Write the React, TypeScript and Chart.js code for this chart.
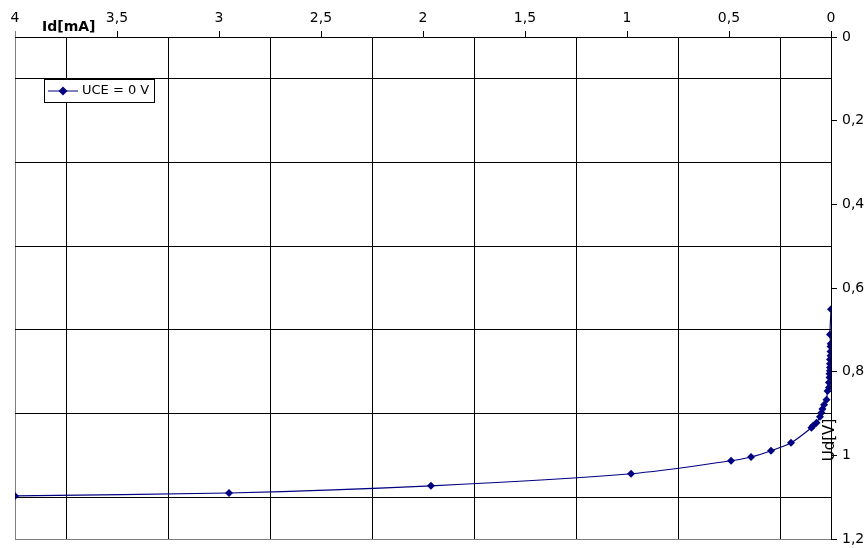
import React, { useEffect, useRef } from "react";
import { Chart, registerables } from "chart.js";

Chart.register(...registerables);

// Diode forward characteristic, UCE = 0 V
const seriesLabel = "UCE = 0 V";
const currentMA = [
  0, 0.005, 0.0015, 0.002, 0.002, 0.002, 0.005, 0.005, 0.005, 0.005, 0.007,
  0.007, 0.01, 0.01, 0.017, 0.022, 0.034, 0.042, 0.047, 0.054, 0.071, 0.088,
  0.096, 0.196, 0.294, 0.392, 0.49, 0.98, 1.961, 2.951, 4.0,
];
const voltageV = [
  0.651, 0.711, 0.733, 0.74, 0.752, 0.762, 0.771, 0.781, 0.79, 0.798, 0.805,
  0.814, 0.826, 0.838, 0.846, 0.867, 0.879, 0.889, 0.898, 0.908, 0.922, 0.929,
  0.934, 0.97, 0.989, 1.004, 1.013, 1.044, 1.073, 1.09, 1.097,
];
const xTickValues = [0, 0.25, 0.5, 0.75, 1, 1.25, 1.5, 1.75, 2, 2.25, 2.5, 2.75, 3, 3.25, 3.5, 3.75, 4];
const yTickValues = [0, 0.1, 0.2, 0.3, 0.4, 0.5, 0.6, 0.7, 0.8, 0.9, 1, 1.1, 1.2];
const xTitle = "Id[mA]";
const yTitle = "Ud[V]";

const NAVY = "#000080";
const FONT = '"DejaVu Sans"';

const isMult = (v: number, step: number) => Math.abs(v / step - Math.round(v / step)) < 1e-6;
const fmt = (v: number) => String(Math.round(v * 100) / 100).replace(".", ",");

const overlay = {
  id: "overlay",
  afterDraw(chart: any) {
    const c = chart.ctx as CanvasRenderingContext2D;
    c.save();
    c.fillStyle = "#000";
    c.font = `bold 14px ${FONT}`;
    c.textAlign = "left";
    c.textBaseline = "middle";
    c.fillText(xTitle, 42, 27);

    c.save();
    c.translate(830, 440);
    c.rotate(-Math.PI / 2);
    c.font = `15px ${FONT}`;
    c.textAlign = "center";
    c.textBaseline = "middle";
    c.fillText(yTitle, 0, 0);
    c.restore();

    // legend
    c.fillStyle = "#fff";
    c.fillRect(44.5, 79.5, 110, 23);
    c.strokeStyle = "#000";
    c.lineWidth = 1;
    c.strokeRect(44.5, 79.5, 110, 23);
    c.strokeStyle = NAVY;
    c.beginPath();
    c.moveTo(48, 91);
    c.lineTo(78, 91);
    c.stroke();
    c.fillStyle = NAVY;
    c.beginPath();
    c.moveTo(63, 86.5);
    c.lineTo(67.5, 91);
    c.lineTo(63, 95.5);
    c.lineTo(58.5, 91);
    c.closePath();
    c.fill();
    c.fillStyle = "#000";
    c.font = `13px ${FONT}`;
    c.textAlign = "left";
    c.fillText(seriesLabel, 82, 91);
    c.restore();
  },
};

export default function App() {
  const ref = useRef<HTMLCanvasElement | null>(null);
  useEffect(() => {
    if (!ref.current) return;
    const data = currentMA.map((x, i) => ({ x, y: voltageV[i] }));
    const chart = new Chart(ref.current, {
      type: "scatter",
      data: {
        datasets: [
          {
            label: seriesLabel,
            data,
            showLine: true,
            borderColor: NAVY,
            backgroundColor: NAVY,
            borderWidth: 1.2,
            pointStyle: "rectRot",
            pointRadius: 4,
            pointBorderWidth: 0,
            tension: 0.3,
          },
        ],
      },
      options: {
        responsive: false,
        animation: false,
        layout: { padding: { left: 15, right: 0, top: 0, bottom: 9 } },
        plugins: { legend: { display: false }, tooltip: { enabled: false } },
        scales: {
          x: {
            type: "linear",
            position: "top",
            reverse: true,
            min: 0,
            max: 4,
            afterBuildTicks: (s: any) => {
              s.ticks = xTickValues.map((v) => ({ value: v }));
            },
            afterFit: (s: any) => {
              s.height = 37;
              s.paddingLeft = 0;
              s.paddingRight = 0;
              s.paddingTop = 0;
              s.paddingBottom = 0;
            },
            border: { color: "#000", width: 1 },
            grid: {
              tickLength: 6,
              color: (ctx: any) => {
                const v = ctx.tick.value;
                if (v === 4) return "#808080";
                if (v === 0) return "rgba(0,0,0,0)";
                return isMult(v, 0.5) ? "rgba(0,0,0,0)" : "#000";
              },
              tickColor: (ctx: any) => {
                const v = ctx.tick.value;
                if (v === 4) return "#808080";
                return isMult(v, 0.5) ? "#000" : "rgba(0,0,0,0)";
              },
            },
            ticks: {
              autoSkip: false,
              maxRotation: 0,
              padding: 4,
              color: "#000",
              font: { family: FONT, size: 14 },
              callback: (v: any) => (isMult(Number(v), 0.5) ? fmt(Number(v)) : ""),
            },
          },
          y: {
            type: "linear",
            position: "right",
            reverse: true,
            min: 0,
            max: 1.2,
            afterBuildTicks: (s: any) => {
              s.ticks = yTickValues.map((v) => ({ value: v }));
            },
            afterFit: (s: any) => {
              s.width = 35;
              s.paddingLeft = 0;
              s.paddingRight = 0;
              s.paddingTop = 0;
              s.paddingBottom = 0;
            },
            border: { color: "#000", width: 1 },
            grid: {
              tickLength: 6,
              color: (ctx: any) => {
                const v = ctx.tick.value;
                if (Math.abs(v - 1.2) < 1e-6) return "#808080";
                return isMult(v, 0.2) ? "rgba(0,0,0,0)" : "#000";
              },
              tickColor: (ctx: any) => {
                const v = ctx.tick.value;
                return isMult(v, 0.2) ? "#000" : "rgba(0,0,0,0)";
              },
            },
            ticks: {
              autoSkip: false,
              padding: 5,
              color: "#000",
              font: { family: FONT, size: 14 },
              callback: (v: any) => (isMult(Number(v), 0.2) ? fmt(Number(v)) : ""),
            },
          },
        },
      },
      plugins: [overlay],
    } as any);
    return () => chart.destroy();
  }, []);
  return (
    <div style={{ position: "fixed", left: 0, top: 0, width: 866, height: 548, background: "#fff" }}>
      <canvas ref={ref} width={866} height={548} style={{ display: "block" }} />
    </div>
  );
}
